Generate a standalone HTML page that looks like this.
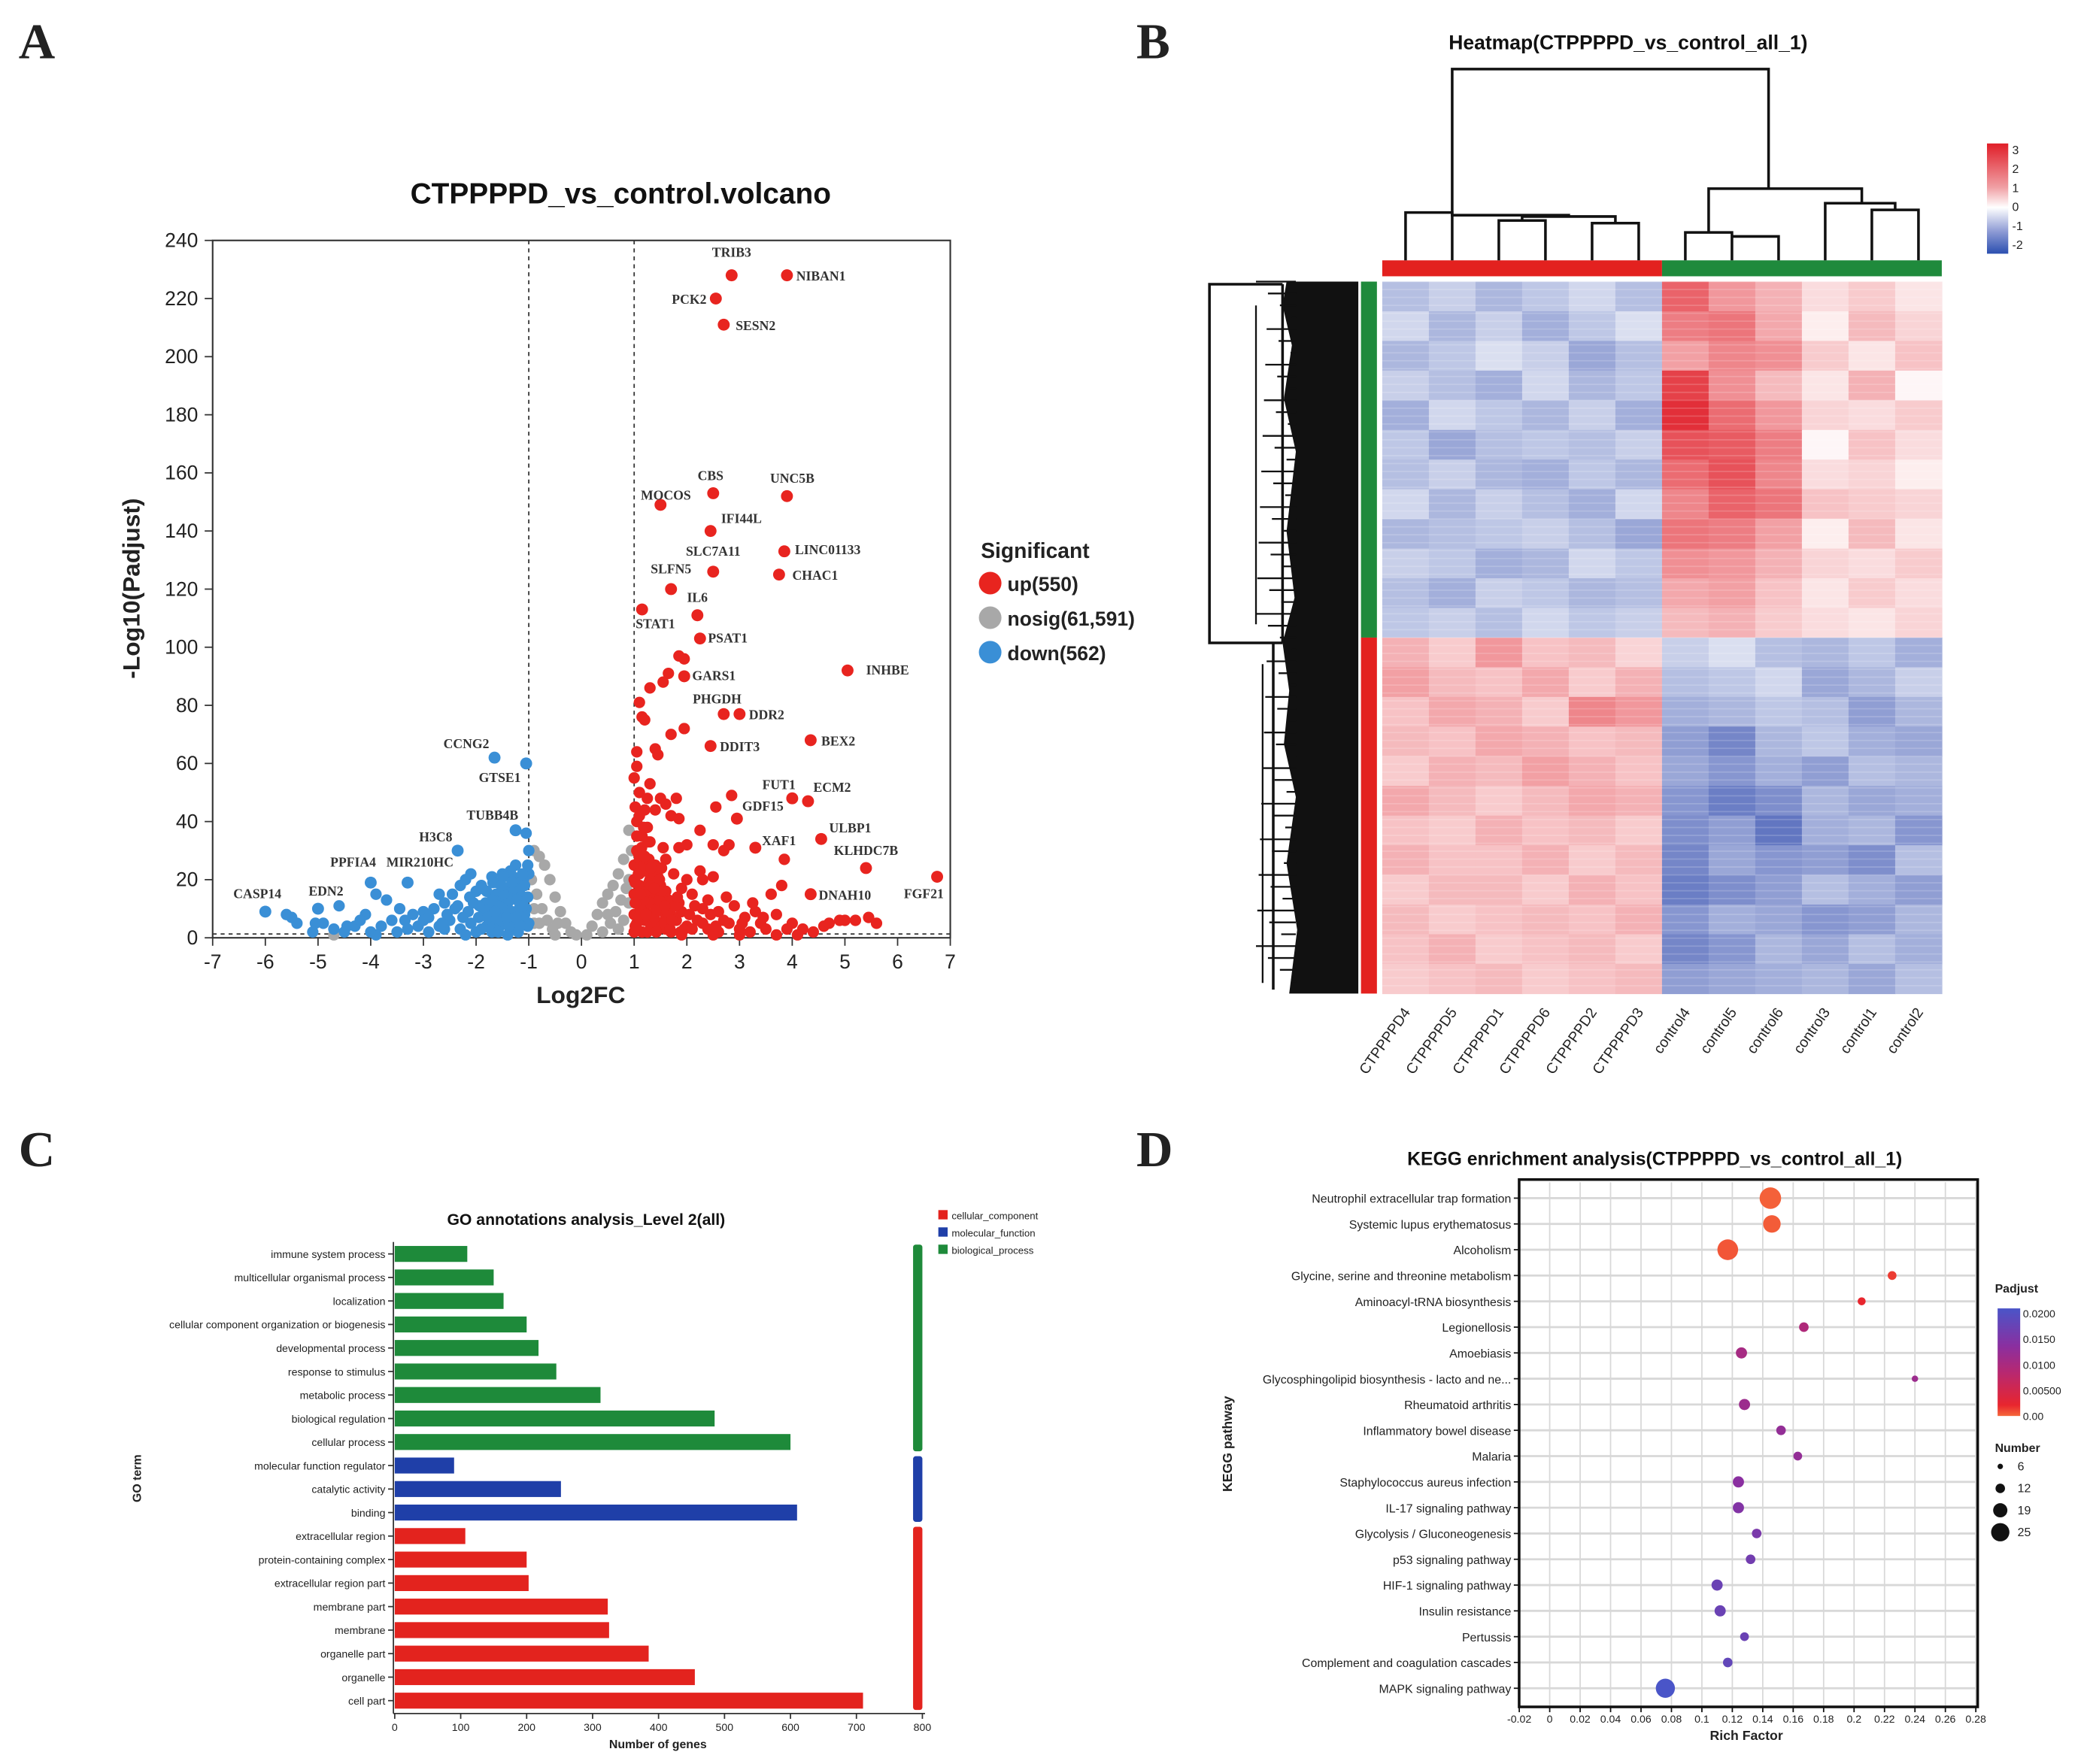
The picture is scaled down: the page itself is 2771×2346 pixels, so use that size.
<!DOCTYPE html>
<html><head><meta charset="utf-8">
<style>
html,body{margin:0;padding:0;background:#fff;}
svg{display:block;font-family:"Liberation Sans",Arial,sans-serif;}
</style></head>
<body>
<svg id="fig" width="2771" height="2346" viewBox="0 0 1568 1328" preserveAspectRatio="none" xmlns="http://www.w3.org/2000/svg">
<rect x="0" y="0" width="1568" height="1328" fill="#fff"/>
<g font-family="Liberation Serif,serif" font-weight="bold" font-size="38" fill="#222">
<text x="14" y="44">A</text>
<text x="855" y="44">B</text>
<text x="14" y="878">C</text>
<text x="855" y="878">D</text>
</g>
</svg>
<script>
// ---------- VOLCANO DATA ----------
const labeledX=[2.85,3.9,2.55,2.7,2.5,3.9,1.5,2.45,3.85,2.5,3.75,1.7,1.15,2.2,2.25,5.05,1.95,2.7,3.0,4.35,2.45,4.0,4.3,2.95,3.3,4.55,5.4,6.75,4.35,-1.65,-1.05,-1.25,-2.35,-4.0,-3.3,-5.0,-6.0];
const labeledY=[228,228,220,211,153,152,149,140,133,126,125,120,113,111,103,92,90,77,77,68,66,48,47,41,31,34,24,21,15,62,60,37,30,19,19,10,9];
const labeledNames=["TRIB3","NIBAN1","PCK2","SESN2","CBS","UNC5B","MOCOS","IFI44L","LINC01133","SLC7A11","CHAC1","SLFN5","STAT1","IL6","PSAT1","INHBE","GARS1","PHGDH","DDR2","BEX2","DDIT3","FUT1","ECM2","GDF15","XAF1","ULBP1","KLHDC7B","FGF21","DNAH10","CCNG2","GTSE1","TUBB4B","H3C8","PPFIA4","MIR210HC","EDN2","CASP14"];
const redX=[1.1,1.15,1.2,1.3,1.55,1.65,1.85,1.95,1.05,1.05,1.0,1.4,1.45,1.7,1.95,1.3,1.1,1.25,1.5,1.6,1.8,1.2,1.4,1.7,1.85,1.05,1.25,2.25,1.15,1.3,1.55,1.85,2.0,2.5,2.8,2.7,2.85,2.55,1.05,1.2,1.4,1.6,1.75,2.25,2.3,2.5,1.1,1.3,1.5,1.9,2.1,2.4,2.6,2.9,3.1,3.4,3.6,3.8,3.7,4.0,4.2,4.4,4.6,4.7,4.9,5.0,5.2,5.45,5.6,3.85,1.0,1.1,1.2,1.3,1.4,1.5,1.6,1.7,1.8,1.9,2.0,2.2,2.4,2.6,2.8,3.0,3.2,3.5,3.9,1.05,1.15,1.25,1.35,1.45,1.55,1.65,1.75,1.85,1.95,2.05,2.15,2.3,2.7,1.0,1.1,1.2,1.35,1.45,1.6,1.0,1.05,1.3,2.0,2.45,3.3,1.0,1.1,1.2,1.4,1.5,1.6,1.7,1.0,1.25,1.9,2.5,3.0,3.7,4.1,
1.02,1.08,1.12,1.18,1.22,1.28,1.32,1.38,1.42,1.48,1.52,1.58,1.62,1.68,1.72,1.78,1.82,1.88,1.02,1.08,1.12,1.18,1.22,1.28,1.32,1.38,1.42,1.48,1.52,1.58,1.02,1.08,1.14,1.2,1.26,1.32,1.38,1.02,1.1,1.18,2.1,2.3,2.55,2.75,3.05,3.25,3.45];
const redY=[81,76,75,86,88,91,97,96,64,59,55,65,63,70,72,53,50,48,48,46,48,44,44,42,41,40,38,37,35,33,31,31,32,32,32,30,49,45,30,28,25,27,22,23,20,21,22,20,18,17,15,13,9,11,7,5,15,18,8,5,3,2,4,5,6,6,6,7,5,27,15,12,10,8,6,4,3,2,6,9,4,6,3,2,5,3,2,3,3,5,2,17,14,11,9,13,7,12,3,8,11,5,6,25,18,23,3,21,16,8,35,12,20,8,9,20,27,6,9,14,7,10,2,2,1,1,1,1,1,
4,7,10,13,16,19,4,7,10,13,16,5,9,3,6,11,14,2,19,22,15,25,8,27,18,22,2,20,24,11,12,29,31,28,33,24,17,45,42,38,3,10,4,14,5,12,7];
const blueX=[-1.0,-1.05,-1.25,-1.35,-1.5,-1.7,-1.9,-2.0,-2.1,-2.2,-2.3,-2.45,-2.6,-2.8,-3.0,-3.2,-3.45,-3.7,-3.9,-4.1,-4.3,-4.5,-4.7,-4.9,-5.1,-5.4,-5.5,-5.6,-4.6,-2.7,-1.1,-1.2,-1.3,-1.4,-1.5,-1.6,-1.7,-1.8,-1.9,-2.1,-2.3,-2.5,-2.7,-2.9,-3.1,-3.3,-3.5,-3.8,-4.0,-1.05,-1.15,-1.25,-1.35,-1.45,-1.55,-1.65,-1.75,-1.85,-1.95,-2.05,-2.15,-2.25,-2.4,-2.55,-1.0,-1.1,-1.2,-1.6,-2.0,-3.0,-3.6,-4.2,-1.3,-1.8,-2.6,-1.0,-1.4,-2.2,-3.9,-1.5,-1.7,-2.9,
-1.02,-1.08,-1.12,-1.18,-1.22,-1.28,-1.32,-1.38,-1.42,-1.48,-1.52,-1.58,-1.62,-1.68,-1.72,-1.78,-1.82,-1.88,-1.02,-1.08,-1.12,-1.18,-1.22,-1.28,-1.32,-1.38,-1.42,-1.48,-1.52,-1.58,-1.64,-1.7,-1.02,-1.1,-1.16,-1.24,-1.94,-2.12,-2.35,-2.65,-3.35,-4.45,-5.05];
const blueY=[30,36,25,23,22,21,18,16,22,20,18,15,12,10,9,8,10,13,15,8,4,2,3,5,2,5,7,8,11,15,20,18,15,12,10,8,6,4,3,5,3,6,4,2,4,3,2,4,2,10,6,3,8,17,4,14,11,9,7,12,9,7,10,8,22,14,2,19,2,6,6,6,21,16,3,5,1,1,1,13,2,7,
4,8,12,16,20,5,9,13,17,21,6,11,15,19,3,7,12,17,14,18,22,10,13,17,19,4,7,15,18,2,9,13,25,11,4,7,11,14,11,5,6,4,5];
const grayX=[-0.9,-0.8,-0.7,-0.6,-0.5,-0.4,-0.3,-0.2,-0.1,0.1,0.2,0.3,0.4,0.5,0.6,0.7,0.8,0.9,0.95,-0.95,-0.85,-0.75,-0.65,-0.55,0.55,0.65,0.75,0.85,0.9,-0.9,-0.8,0.8,0.7,-0.5,0.4,0.5,-0.45,0.9,-0.9,-4.7];
const grayY=[30,28,25,20,14,9,5,2,1,1,4,8,12,15,18,22,27,37,30,20,15,10,6,3,5,9,13,17,20,10,5,6,3,1,2,8,5,12,5,1];
const xTicks=[-7,-6,-5,-4,-3,-2,-1,0,1,2,3,4,5,6,7];
const yTicks=[0,20,40,60,80,100,120,140,160,180,200,220,240];

// ---------- HEATMAP DATA ----------
const sampleNames=["CTPPPPD4","CTPPPPD5","CTPPPPD1","CTPPPPD6","CTPPPPD2","CTPPPPD3","control4","control5","control6","control3","control1","control2"];
const heatRows=[
[-0.8,-0.6,-0.9,-0.7,-0.5,-0.8,1.8,1.2,0.9,0.4,0.6,0.3],
[-0.5,-0.9,-0.6,-1.0,-0.7,-0.4,1.5,1.6,1.0,0.2,0.8,0.5],
[-0.9,-0.7,-0.4,-0.6,-1.1,-0.8,1.1,1.4,1.3,0.6,0.3,0.7],
[-0.6,-0.8,-1.0,-0.5,-0.9,-0.7,2.2,1.3,0.8,0.3,0.9,0.1],
[-1.0,-0.5,-0.7,-0.9,-0.6,-1.0,2.4,1.7,1.2,0.5,0.4,0.6],
[-0.7,-1.1,-0.8,-0.7,-0.8,-0.6,2.0,1.9,1.5,0.1,0.7,0.4],
[-0.8,-0.6,-0.9,-1.0,-0.7,-0.9,1.7,2.0,1.4,0.4,0.5,0.2],
[-0.5,-0.9,-0.6,-0.8,-1.0,-0.5,1.4,1.8,1.6,0.7,0.6,0.5],
[-0.9,-0.8,-0.7,-0.6,-0.8,-1.1,1.6,1.5,1.1,0.2,0.8,0.3],
[-0.6,-0.7,-1.0,-0.9,-0.5,-0.7,1.3,1.2,0.9,0.5,0.4,0.6],
[-0.8,-1.0,-0.6,-0.7,-0.9,-0.8,1.0,1.1,0.7,0.3,0.6,0.4],
[-0.7,-0.6,-0.8,-0.5,-0.7,-0.6,0.8,0.9,0.6,0.4,0.3,0.5],
[0.9,0.6,1.2,0.7,0.8,0.5,-0.6,-0.4,-0.8,-0.9,-0.7,-1.0],
[1.1,0.8,0.7,1.0,0.6,0.9,-0.8,-0.7,-0.5,-1.1,-0.9,-0.6],
[0.7,1.0,0.9,0.6,1.4,1.2,-1.0,-0.9,-0.7,-0.8,-1.2,-0.9],
[0.8,0.7,1.0,0.9,0.7,0.8,-1.2,-1.5,-0.9,-0.7,-1.0,-1.1],
[0.6,0.9,0.8,1.1,0.9,0.7,-1.1,-1.3,-1.0,-1.2,-0.8,-0.9],
[1.0,0.8,0.6,0.8,1.0,0.9,-1.3,-1.6,-1.4,-0.9,-1.1,-1.0],
[0.7,0.6,0.9,0.7,0.8,0.6,-1.4,-1.2,-1.7,-1.0,-0.9,-1.3],
[0.9,0.7,0.7,0.9,0.6,0.8,-1.5,-1.1,-1.3,-1.2,-1.4,-0.8],
[0.6,0.8,0.8,0.6,0.9,0.7,-1.6,-1.4,-1.2,-0.8,-1.0,-1.2],
[0.8,0.6,0.7,0.8,0.7,0.9,-1.3,-1.0,-1.1,-1.3,-1.2,-0.9],
[0.7,0.9,0.6,0.7,0.8,0.6,-1.5,-1.3,-0.9,-1.1,-0.8,-1.0],
[0.6,0.7,0.8,0.6,0.7,0.8,-1.2,-1.1,-1.0,-0.9,-1.1,-0.8]];
const heatLegendTicks=[3,2,1,0,-1,-2];

// ---------- GO DATA ----------
const goTerms=["immune system process","multicellular organismal process","localization","cellular component organization or biogenesis","developmental process","response to stimulus","metabolic process","biological regulation","cellular process","molecular function regulator","catalytic activity","binding","extracellular region","protein-containing complex","extracellular region part","membrane part","membrane","organelle part","organelle","cell part"];
const goValues=[110,150,165,200,218,245,312,485,600,90,252,610,107,200,203,323,325,385,455,710];
const goGroups=["bp","bp","bp","bp","bp","bp","bp","bp","bp","mf","mf","mf","cc","cc","cc","cc","cc","cc","cc","cc"];
const goTicks=[0,100,200,300,400,500,600,700,800];

// ---------- KEGG DATA ----------
const keggNames=["Neutrophil extracellular trap formation","Systemic lupus erythematosus","Alcoholism","Glycine, serine and threonine metabolism","Aminoacyl-tRNA biosynthesis","Legionellosis","Amoebiasis","Glycosphingolipid biosynthesis - lacto and ne...","Rheumatoid arthritis","Inflammatory bowel disease","Malaria","Staphylococcus aureus infection","IL-17 signaling pathway","Glycolysis / Gluconeogenesis","p53 signaling pathway","HIF-1 signaling pathway","Insulin resistance","Pertussis","Complement and coagulation cascades","MAPK signaling pathway"];
const keggRich=[0.145,0.146,0.117,0.225,0.205,0.167,0.126,0.240,0.128,0.152,0.163,0.124,0.124,0.136,0.132,0.110,0.112,0.128,0.117,0.076];
const keggNumber=[25,20,24,9,8,10,12,6,12,10,9,12,12,10,10,12,12,9,10,22];
const keggPadj=[0.0003,0.0005,0.0008,0.002,0.003,0.009,0.010,0.011,0.011,0.012,0.012,0.013,0.014,0.015,0.016,0.017,0.017,0.017,0.018,0.021];
const keggTicks=[-0.02,0,0.02,0.04,0.06,0.08,0.1,0.12,0.14,0.16,0.18,0.2,0.22,0.24,0.26,0.28];
const numLegend=[6,12,19,25];
const padjLegend=[0.02,0.015,0.01,0.005,0];
const padjLegendLabels=["0.0200","0.0150","0.0100","0.00500","0.00"];

const NS="http://www.w3.org/2000/svg";
const svg=document.getElementById('fig');
function mk(tag,attrs,parent,txt){const e=document.createElementNS(NS,tag);for(const k in attrs)e.setAttribute(k,attrs[k]);if(txt!==undefined)e.textContent=txt;(parent||svg).appendChild(e);return e;}

// ================= PANEL A: VOLCANO =================
const gA=mk('g',{});


const vx=v=>160+(v+7)*(555/14);
const vy=v=>706-v*(525/240);
let t=mk('text',{x:467,y:153,'text-anchor':'middle','font-size':22,'font-weight':'bold',fill:'#111'},gA,'CTPPPPD_vs_control.volcano');


let fr=mk('rect',{x:160,y:181,width:555,height:525,fill:'none',stroke:'#333','stroke-width':1.2},gA);


xTicks.forEach(v=>{
 mk('line',{x1:vx(v),x2:vx(v),y1:706,y2:712,stroke:'#333'},gA);
 const l=mk('text',{x:vx(v),y:729,'text-anchor':'middle','font-size':15,fill:'#222'},gA,String(v));
 
 
});
yTicks.forEach(v=>{
 mk('line',{x1:154,x2:160,y1:vy(v),y2:vy(v),stroke:'#333'},gA);
 const l=mk('text',{x:149,y:vy(v)+5,'text-anchor':'end','font-size':15,fill:'#222'},gA,String(v));
 
 
});
t=mk('text',{x:437,y:755,'text-anchor':'middle','font-size':18,'font-weight':'bold',fill:'#222'},gA,'Log2FC');


t=mk('text',{x:105,y:443,'text-anchor':'middle','font-size':18,'font-weight':'bold',fill:'#222',transform:'rotate(-90 105 443)'},gA,'-Log10(Padjust)');


[-1,1].forEach(v=>{const l=mk('line',{x1:vx(v),x2:vx(v),y1:181,y2:706,stroke:'#333','stroke-dasharray':'3,3'},gA);
 
 });
let hl=mk('line',{x1:160,x2:715,y1:vy(1.3),y2:vy(1.3),stroke:'#333','stroke-dasharray':'3,3'},gA);


function pts(xs,ys,col,name){xs.forEach((x,i)=>{const c=mk('circle',{cx:vx(x),cy:vy(ys[i]),r:4.3,fill:col},gA);
 
 });}
pts(grayX,grayY,'#a8a8a8','nosig-point');
pts(blueX,blueY,'#3a8fd6','down-point');
pts(redX,redY,'#e8241f','up-point');
const lblOff={TRIB3:[0,-14,'middle'],NIBAN1:[7,4,'start'],PCK2:[-7,4,'end'],SESN2:[9,4,'start'],CBS:[-2,-10,'middle'],UNC5B:[4,-10,'middle'],MOCOS:[4,-4,'middle'],IFI44L:[8,-6,'start'],LINC01133:[8,2,'start'],SLC7A11:[0,-12,'middle'],CHAC1:[10,4,'start'],SLFN5:[0,-12,'middle'],STAT1:[10,14,'middle'],IL6:[0,-10,'middle'],PSAT1:[6,3,'start'],INHBE:[14,3,'start'],GARS1:[6,3,'start'],PHGDH:[-5,-8,'middle'],DDR2:[7,4,'start'],BEX2:[8,4,'start'],DDIT3:[7,4,'start'],FUT1:[-10,-7,'middle'],ECM2:[4,-7,'start'],GDF15:[4,-6,'start'],XAF1:[5,-2,'start'],ULBP1:[6,-5,'start'],KLHDC7B:[0,-10,'middle'],FGF21:[-10,16,'middle'],DNAH10:[6,4,'start'],CCNG2:[-4,-7,'end'],GTSE1:[-4,14,'end'],TUBB4B:[2,-8,'end'],H3C8:[-4,-7,'end'],PPFIA4:[4,-12,'end'],MIR210HC:[-16,-12,'start'],EDN2:[6,-10,'middle'],CASP14:[-6,-10,'middle']};
labeledX.forEach((x,i)=>{
 const col=x>0?'#e8241f':'#3a8fd6';
 const c=mk('circle',{cx:vx(x),cy:vy(labeledY[i]),r:4.5,fill:col},gA);
 
 
 const o=lblOff[labeledNames[i]];
 const l=mk('text',{x:vx(x)+o[0],y:vy(labeledY[i])+o[1],'text-anchor':o[2],'font-size':10,'font-weight':'bold','font-family':'Liberation Serif,serif',fill:'#333'},gA,labeledNames[i]);
 
 
});
t=mk('text',{x:738,y:420,'font-size':16,'font-weight':'bold',fill:'#222'},gA,'Significant');


[['up(550)','#e8241f',439],['nosig(61,591)','#a8a8a8',465],['down(562)','#3a8fd6',491]].forEach(e=>{
 const c=mk('circle',{cx:745,cy:e[2],r:8.5,fill:e[1]},gA);
 
 
 const l=mk('text',{x:758,y:e[2]+6,'font-size':15,'font-weight':'bold',fill:'#222'},gA,e[0]);
 
 
});

// ================= PANEL B: HEATMAP =================
const gB=mk('g',{});


const hx0=1040,hx1=1461,hy0=212,hy1=748;
const cw=(hx1-hx0)/sampleNames.length, rh=(hy1-hy0)/heatRows.length;
const cx=i=>hx0+(i+0.5)*cw;
function lerp(a,b,f){return Math.round(a+(b-a)*f);}
function heatCol(v){
 let c1,c2,f;
 if(v>=0){c1=[255,255,255];c2=[224,30,40];f=Math.min(v/2.6,1);}
 else{c1=[255,255,255];c2=[52,78,175];f=Math.min(-v/2.2,1);}
 return `rgb(${lerp(c1[0],c2[0],f)},${lerp(c1[1],c2[1],f)},${lerp(c1[2],c2[2],f)})`;
}
t=mk('text',{x:1225,y:37,'text-anchor':'middle','font-size':15,'font-weight':'bold',fill:'#111'},gB,'Heatmap(CTPPPPD_vs_control_all_1)');


heatRows.forEach((row,r)=>row.forEach((v,c)=>{
 const e=mk('rect',{x:hx0+c*cw,y:hy0+r*rh,width:cw+0.4,height:rh+0.4,fill:heatCol(v)},gB);
 
 
}));
for(let k=0;k<90;k++){const y=hy0+k*(hy1-hy0)/90;mk('line',{x1:hx0,x2:hx1,y1:y,y2:y,stroke:'#fff','stroke-opacity':0.18,'stroke-width':1},gB);}
let cb=mk('rect',{x:hx0,y:196,width:cw*6,height:12,fill:'#e3211f'},gB);


cb=mk('rect',{x:hx0+cw*6,y:196,width:cw*6,height:12,fill:'#1f8a3c'},gB);


const split=hy0+rh*12;
cb=mk('rect',{x:1024,y:hy0,width:12,height:split-hy0,fill:'#1f8a3c'},gB);


cb=mk('rect',{x:1024,y:split,width:12,height:hy1-split,fill:'#e3211f'},gB);


const cd=mk('g',{stroke:'#111','stroke-width':2,fill:'none'},gB);


const dp=d=>mk('path',{d:d},cd);
dp(`M${cx(0)},196V160H${cx(1)}V196`);
dp(`M${cx(2)},196V166H${cx(3)}V196`);
dp(`M${cx(4)},196V168H${cx(5)}V196`);
dp(`M${(cx(2)+cx(3))/2},166V163H${(cx(4)+cx(5))/2}V168`);
dp(`M${cx(1)},160V162H${(cx(2)+cx(5))/2}V163`);
dp(`M${cx(6)},196V175H${cx(7)}V196`);
dp(`M${cx(7)},178H${cx(8)}V196`);
dp(`M${cx(10)},196V158H${cx(11)}V196`);
dp(`M${cx(9)},196V153H${(cx(10)+cx(11))/2}V158`);
dp(`M${(cx(6)+cx(7))/2},175V142H${(cx(9)+cx(10))/2+10}V153`);
dp(`M${cx(1)},160V52H${(cx(6)+cx(9))/2+10}V142`);
const rd=mk('g',{},gB);


mk('path',{d:`M965,214H910V484H965`,stroke:'#111','stroke-width':2,fill:'none'},rd);
mk('path',{d:`M1022,212H968L965,230L972,260L966,300L975,340L968,400L974,450L965,484L970,520L966,560L975,600L968,650L976,700L970,748H1022Z`,fill:'#111'},rd);
for(let k=0;k<60;k++){const y=hy0+k*(hy1-hy0)/60;const x0=945+((k*37)%28);mk('line',{x1:x0,x2:975,y1:y,y2:y,stroke:'#111','stroke-width':1.3},rd);}
mk('line',{x1:965,x2:965,y1:214,y2:484,stroke:'#111','stroke-width':2},rd);
mk('line',{x1:958,x2:958,y1:484,y2:745,stroke:'#111','stroke-width':2},rd);
mk('line',{x1:945,x2:945,y1:230,y2:470,stroke:'#111','stroke-width':1.3},rd);
mk('line',{x1:950,x2:950,y1:500,y2:740,stroke:'#111','stroke-width':1.3},rd);
sampleNames.forEach((n,i)=>{
 const l=mk('text',{x:cx(i)+4,y:762,'text-anchor':'end','font-size':11,fill:'#222',transform:`rotate(-55 ${cx(i)+4} 762)`},gB,n);
 
 
});
const defs=mk('defs',{});
const lg=mk('linearGradient',{id:'hg',x1:0,y1:0,x2:0,y2:1},defs);
[[0,'#e01e28'],[0.4,'#f0a0a5'],[0.58,'#ffffff'],[0.8,'#8d9ad4'],[1,'#2b4fb0']].forEach(s=>mk('stop',{offset:s[0],'stop-color':s[1]},lg));
cb=mk('rect',{x:1495,y:108,width:16,height:83,fill:'url(#hg)'},gB);


heatLegendTicks.forEach((v,i)=>{
 const y=113+i*14.3;
 const l=mk('text',{x:1514,y:y+3,'font-size':9,fill:'#222'},gB,String(v));
 
 
});

// ================= PANEL C: GO =================
const gC=mk('g',{});


const gx=v=>297+v*(397/800);
const gy=i=>944+i*17.7;
const gcol={bp:'#1e8a3a',mf:'#1f3fa8',cc:'#e3231e'};
t=mk('text',{x:441,y:922,'text-anchor':'middle','font-size':12,'font-weight':'bold',fill:'#111'},gC,'GO annotations analysis_Level 2(all)');


mk('line',{x1:296,x2:296,y1:935,y2:1290,stroke:'#333'},gC);
mk('line',{x1:296,x2:696,y1:1290,y2:1290,stroke:'#333'},gC);
goTerms.forEach((n,i)=>{
 const b=mk('rect',{x:gx(0),y:gy(i)-6,width:gx(goValues[i])-gx(0),height:12,fill:gcol[goGroups[i]]},gC);
 
 
 mk('line',{x1:292,x2:296,y1:gy(i),y2:gy(i),stroke:'#333'},gC);
 const l=mk('text',{x:290,y:gy(i)+3,'text-anchor':'end','font-size':8,fill:'#222'},gC,n);
 
 
});
goTicks.forEach(v=>{
 mk('line',{x1:gx(v),x2:gx(v),y1:1290,y2:1294,stroke:'#333'},gC);
 const l=mk('text',{x:gx(v),y:1303,'text-anchor':'middle','font-size':8,fill:'#222'},gC,String(v));
 
 
});
t=mk('text',{x:495,y:1316,'text-anchor':'middle','font-size':9,'font-weight':'bold',fill:'#222'},gC,'Number of genes');


t=mk('text',{x:106,y:1113,'text-anchor':'middle','font-size':9,'font-weight':'bold',fill:'#222',transform:'rotate(-90 106 1113)'},gC,'GO term');


[['bp',0,8],['mf',9,11],['cc',12,19]].forEach(g=>{
 const b=mk('rect',{x:687,y:gy(g[1])-7,width:7,height:gy(g[2])-gy(g[1])+14,fill:gcol[g[0]],rx:2},gC);
 
 
});
[['cellular_component','cc',915],['molecular_function','mf',928],['biological_process','bp',941]].forEach(e=>{
 const r=mk('rect',{x:706,y:e[2]-4,width:7,height:7,fill:gcol[e[1]]},gC);
 
 
 const l=mk('text',{x:716,y:e[2]+3,'font-size':7.5,fill:'#222'},gC,e[0]);
 
 
});

// ================= PANEL D: KEGG =================
const gD=mk('g',{});


const kx=v=>1166+v*1145;
const ky=i=>902+i*19.42;
const kr=n=>0.3*n+0.6;
const pstops=[[0,[245,103,58]],[0.003,[232,38,46]],[0.008,[184,40,112]],[0.013,[138,47,160]],[0.021,[74,85,200]]];
function pcol(p){for(let i=1;i<pstops.length;i++){if(p<=pstops[i][0]){const a=pstops[i-1],b=pstops[i];const f=(p-a[0])/(b[0]-a[0]);return `rgb(${lerp(a[1][0],b[1][0],f)},${lerp(a[1][1],b[1][1],f)},${lerp(a[1][2],b[1][2],f)})`;}}return 'rgb(74,85,200)';}
t=mk('text',{x:1245,y:877,'text-anchor':'middle','font-size':14,'font-weight':'bold',fill:'#111'},gD,'KEGG enrichment analysis(CTPPPPD_vs_control_all_1)');


keggTicks.forEach(v=>{
 mk('line',{x1:kx(v),x2:kx(v),y1:890,y2:1284,stroke:'#d8d8d8','stroke-width':1},gD);
});
keggNames.forEach((n,i)=>{
 mk('line',{x1:1143,x2:1488,y1:ky(i),y2:ky(i),stroke:'#d8d8d8','stroke-width':1.6},gD);
});
let kf=mk('rect',{x:1143,y:888,width:345,height:397,fill:'none',stroke:'#111','stroke-width':2},gD);


keggTicks.forEach(v=>{
 mk('line',{x1:kx(v),x2:kx(v),y1:1285,y2:1289,stroke:'#111'},gD);
 const l=mk('text',{x:kx(v),y:1297,'text-anchor':'middle','font-size':8,fill:'#222'},gD,String(v));
 
 
});
keggNames.forEach((n,i)=>{
 mk('line',{x1:1139,x2:1143,y1:ky(i),y2:ky(i),stroke:'#111'},gD);
 const l=mk('text',{x:1137,y:ky(i)+3.5,'text-anchor':'end','font-size':9,fill:'#222'},gD,n);
 
 
 const c=mk('circle',{cx:kx(keggRich[i]),cy:ky(i),r:kr(keggNumber[i]),fill:pcol(keggPadj[i])},gD);
 
 
});
t=mk('text',{x:1314,y:1310,'text-anchor':'middle','font-size':10,'font-weight':'bold',fill:'#222'},gD,'Rich Factor');


t=mk('text',{x:927,y:1087,'text-anchor':'middle','font-size':10,'font-weight':'bold',fill:'#222',transform:'rotate(-90 927 1087)'},gD,'KEGG pathway');


t=mk('text',{x:1501,y:973,'font-size':9,'font-weight':'bold',fill:'#222'},gD,'Padjust');


const lg2=mk('linearGradient',{id:'pg',x1:0,y1:0,x2:0,y2:1},defs);
[[0,'#4a55c8'],[0.35,'#8a2fa0'],[0.6,'#b82870'],[0.9,'#e8262e'],[1,'#f5673a']].forEach(s=>mk('stop',{offset:s[0],'stop-color':s[1]},lg2));
cb=mk('rect',{x:1503,y:985,width:17,height:81,fill:'url(#pg)'},gD);


padjLegend.forEach((v,i)=>{
 const y=1066-v/0.021*81;
 const l=mk('text',{x:1522,y:y+3,'font-size':8,fill:'#222'},gD,padjLegendLabels[i]);
 
 
});
t=mk('text',{x:1501,y:1093,'font-size':9,'font-weight':'bold',fill:'#222'},gD,'Number');


numLegend.forEach((n,i)=>{
 const y=1104+i*16.5;
 const c=mk('circle',{cx:1505,cy:y,r:kr(n)*0.85,fill:'#111'},gD);
 
 
 const l=mk('text',{x:1518,y:y+3,'font-size':9,fill:'#222'},gD,String(n));
 
 
});
</script>
</body></html>
